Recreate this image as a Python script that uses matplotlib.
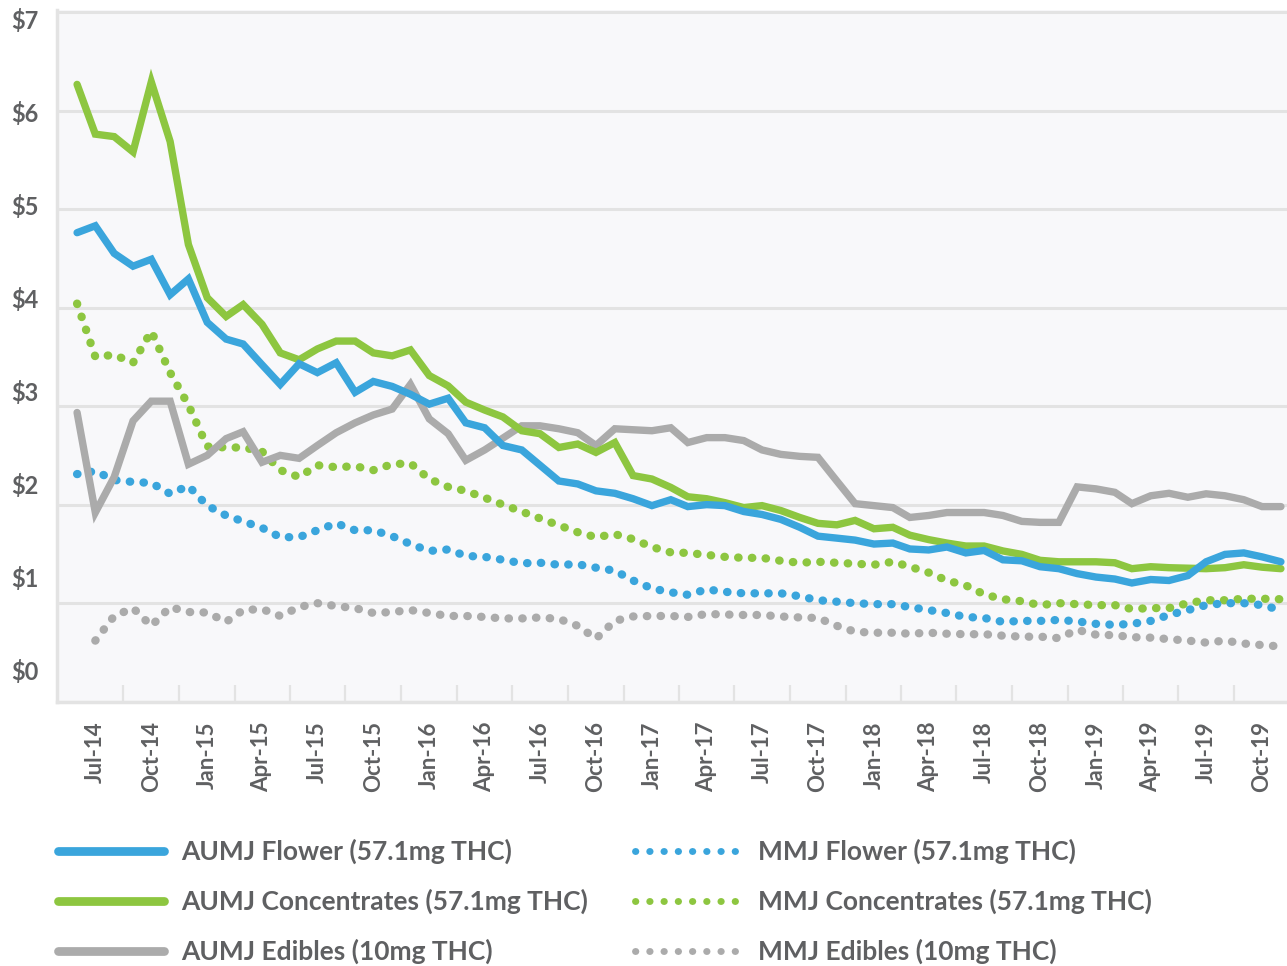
import numpy as np
import pandas as pd
import matplotlib
matplotlib.use('Agg')
import matplotlib.pyplot as plt
from matplotlib.lines import Line2D

# monthly price per unit, Jun-14 .. Nov-19
months = pd.date_range('2014-06-01', periods=66, freq='MS')

aumj_flower = [4.76, 4.83, 4.55, 4.42, 4.49, 4.13, 4.29, 3.85, 3.68, 3.63,
               3.42, 3.22, 3.43, 3.34, 3.44, 3.14, 3.25, 3.20, 3.12, 3.02,
               3.08, 2.83, 2.78, 2.60, 2.555, 2.40, 2.24, 2.21, 2.14, 2.115,
               2.06, 1.99, 2.05, 1.98, 2.00, 1.99, 1.93, 1.90, 1.85, 1.77,
               1.68, 1.66, 1.64, 1.60, 1.61, 1.55, 1.54, 1.57, 1.51, 1.535,
               1.44, 1.43, 1.37, 1.35, 1.30, 1.265, 1.245, 1.205, 1.24, 1.23,
               1.28, 1.42, 1.495, 1.51, 1.47, 1.42]
aumj_conc = [6.265, 5.76, 5.735, 5.58, 6.29, 5.685, 4.64, 4.10, 3.91, 4.03,
             3.83, 3.54, 3.47, 3.58, 3.66, 3.66, 3.54, 3.51, 3.57, 3.31,
             3.205, 3.04, 2.96, 2.89, 2.75, 2.72, 2.58, 2.615, 2.53, 2.63,
             2.295, 2.26, 2.175, 2.08, 2.06, 2.02, 1.97, 1.99, 1.94, 1.87,
             1.81, 1.795, 1.84, 1.755, 1.77, 1.69, 1.645, 1.61, 1.58, 1.58,
             1.53, 1.495, 1.435, 1.42, 1.42, 1.42, 1.41, 1.35, 1.37, 1.36,
             1.355, 1.35, 1.36, 1.39, 1.365, 1.35]
aumj_edibles = [2.935, 1.92, 2.28, 2.85, 3.05, 3.05, 2.41, 2.50, 2.67, 2.74,
                2.43, 2.50, 2.47, 2.60, 2.73, 2.83, 2.91, 2.97, 3.22, 2.87,
                2.72, 2.45, 2.555, 2.675, 2.80, 2.80, 2.77, 2.73, 2.60, 2.77,
                2.76, 2.75, 2.78, 2.63, 2.68, 2.68, 2.65, 2.555, 2.51, 2.49,
                2.48, 2.24, 2.01, 1.99, 1.97, 1.87, 1.89, 1.92, 1.92, 1.92,
                1.89, 1.83, 1.82, 1.82, 2.18, 2.16, 2.125, 2.01, 2.09, 2.115,
                2.075, 2.11, 2.09, 2.05, 1.98, 1.98]
mmj_flower = [2.31, 2.34, 2.25, 2.23, 2.22, 2.11, 2.19, 1.99, 1.89, 1.83,
              1.765, 1.67, 1.67, 1.74, 1.81, 1.74, 1.74, 1.68, 1.60, 1.53,
              1.545, 1.48, 1.47, 1.44, 1.405, 1.41, 1.39, 1.395, 1.36, 1.33,
              1.23, 1.15, 1.11, 1.085, 1.14, 1.115, 1.10, 1.10, 1.10, 1.07,
              1.03, 1.015, 1.00, 0.99, 0.99, 0.96, 0.93, 0.90, 0.86, 0.85,
              0.81, 0.82, 0.82, 0.83, 0.815, 0.79, 0.78, 0.79, 0.82, 0.88,
              0.93, 0.98, 1.00, 1.00, 0.98, 0.93]
mmj_conc = [4.04, 3.50, 3.52, 3.44, 3.76, 3.34, 3.01, 2.59, 2.58, 2.58,
            2.54, 2.35, 2.28, 2.40, 2.38, 2.39, 2.35, 2.41, 2.42, 2.26,
            2.18, 2.14, 2.07, 2.00, 1.93, 1.86, 1.79, 1.72, 1.67, 1.70,
            1.65, 1.57, 1.515, 1.51, 1.49, 1.47, 1.46, 1.46, 1.43, 1.41,
            1.42, 1.41, 1.40, 1.39, 1.42, 1.37, 1.31, 1.23, 1.18, 1.09,
            1.04, 1.02, 0.98, 1.00, 0.99, 0.98, 0.98, 0.94, 0.95, 0.95,
            1.00, 1.03, 1.03, 1.045, 1.045, 1.04]
mmj_edibles = [np.nan, 0.62, 0.87, 0.95, 0.77, 0.96, 0.91, 0.905, 0.81, 0.93,
               0.94, 0.87, 0.96, 1.00, 0.97, 0.95, 0.90, 0.91, 0.93, 0.90,
               0.87, 0.87, 0.86, 0.845, 0.845, 0.855, 0.84, 0.77, 0.64, 0.82,
               0.865, 0.87, 0.87, 0.86, 0.89, 0.885, 0.88, 0.88, 0.865, 0.855,
               0.85, 0.77, 0.71, 0.70, 0.70, 0.69, 0.70, 0.69, 0.685, 0.685,
               0.67, 0.66, 0.66, 0.645, 0.73, 0.68, 0.675, 0.655, 0.65, 0.635,
               0.62, 0.60, 0.62, 0.59, 0.575, 0.56]

label_months = pd.date_range('2014-07-01', '2019-10-01', freq='3MS')
y_values = [0, 1, 2, 3, 4, 5, 6, 7]
y_labels = ['\\$%d' % v for v in y_values]

BLUE = '#3aa5dc'
GREEN = '#8dc640'
GRAY = '#ababab'
TEXT = '#5f6062'
LINE = '#e3e3e3'

plt.rcParams['font.family'] = ['Lato', 'DejaVu Sans']

fig = plt.figure(figsize=(12.87, 9.66), dpi=100)
ax = fig.add_axes([57 / 1287, (966 - 701.7) / 966, 1230 / 1287, 691.7 / 966])
ax.set_facecolor('#f8f8fa')

solid = dict(lw=5.3, solid_capstyle='round', solid_joinstyle='miter')
dotted = dict(lw=6.0, linestyle=(0, (0.05, 1.6)), dash_capstyle='round')

ax.plot(months, mmj_edibles, color=GRAY, zorder=3, **dotted)
ax.plot(months, mmj_conc, color=GREEN, zorder=3, **dotted)
ax.plot(months, mmj_flower, color=BLUE, zorder=3, **dotted)
ax.plot(months, aumj_edibles, color=GRAY, zorder=4, **solid)
ax.plot(months, aumj_conc, color=GREEN, zorder=5, **solid)
ax.plot(months, aumj_flower, color=BLUE, zorder=6, **solid)

ax.set_xlim(months[0] - pd.Timedelta(days=33), months[-1] + pd.Timedelta(days=10))
ax.set_ylim(0, 7.02)

ax.set_yticks(y_values)
ax.tick_params(axis='y', length=0, labelleft=False)
ax.grid(axis='y', color=LINE, lw=2.2, zorder=1)
ax.set_axisbelow(True)

ax.set_xticks(label_months)
ax.set_xticklabels([d.strftime('%b-%y') for d in label_months], rotation=90,
                   fontsize=16, fontweight='bold', color=TEXT)
mids = label_months[:-1] + (label_months[1:] - label_months[:-1]) / 2
ax.set_xticks(mids, minor=True)
ax.tick_params(axis='x', which='major', length=0, pad=14)
ax.tick_params(axis='x', which='minor', direction='in', length=12, width=1.6, color=LINE)

for s in ['top', 'right']:
    ax.spines[s].set_visible(False)
for s in ['left', 'bottom']:
    ax.spines[s].set_color(LINE)
    ax.spines[s].set_linewidth(2.5)

# the dollar labels sit on their own scale, slightly off the gridlines
lab = ax.twinx()
lab.set_ylim(-0.341, 7.097)
lab.yaxis.tick_left()
lab.set_yticks(y_values)
lab.set_yticklabels(y_labels, fontsize=17, fontweight='bold', color=TEXT)
lab.tick_params(axis='y', length=0, pad=13)
for s in lab.spines.values():
    s.set_visible(False)

leg_solid = dict(lw=6.3, solid_capstyle='round')
leg_dotted = dict(lw=5.0, linestyle=(0, (0.05, 2.0)), dash_capstyle='round')
handles = [
    Line2D([], [], color=BLUE, **leg_solid),
    Line2D([], [], color=GREEN, **leg_solid),
    Line2D([], [], color=GRAY, **leg_solid),
    Line2D([], [], color=BLUE, **leg_dotted),
    Line2D([], [], color=GREEN, **leg_dotted),
    Line2D([], [], color=GRAY, **leg_dotted),
]
names = ['AUMJ Flower (57.1mg THC)', 'AUMJ Concentrates (57.1mg THC)',
         'AUMJ Edibles (10mg THC)', 'MMJ Flower (57.1mg THC)',
         'MMJ Concentrates (57.1mg THC)', 'MMJ Edibles (10mg THC)']
fig.legend(handles, names, loc='upper left', bbox_to_anchor=(58 / 1287, 1 - 839 / 966),
           ncol=2, frameon=False, prop={'size': 19, 'weight': 'bold'},
           labelcolor=TEXT, handlelength=4.0, handletextpad=0.68,
           columnspacing=1.75, labelspacing=0.93, borderpad=0, borderaxespad=0)

fig.savefig('out.png', dpi=100, facecolor='white')
